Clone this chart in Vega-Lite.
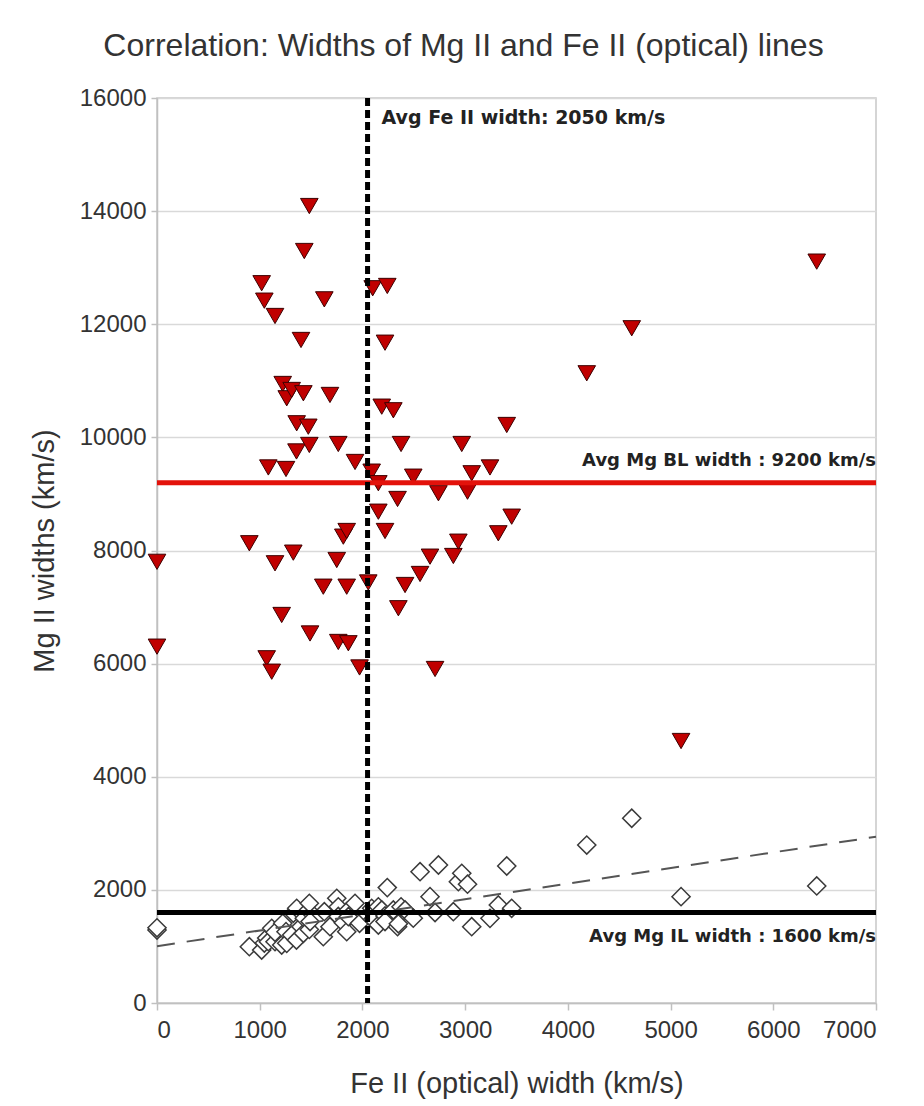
{
  "$schema": "https://vega.github.io/schema/vega-lite/v6.json",
  "autosize": {"type": "none"},
  "padding": {"left": 157, "top": 98, "right": 48, "bottom": 103},
  "width": 719,
  "height": 905,
  "background": "white",
  "title": {
    "text": "Correlation: Widths of Mg II and Fe II (optical) lines",
    "font": "Liberation Sans",
    "fontSize": 32,
    "fontWeight": "normal",
    "color": "#333333",
    "anchor": "middle",
    "dx": -53,
    "offset": 23
  },
  "datasets": {
    "objects": [
      {"fe": 0, "bl": 7800, "il": 1290},
      {"fe": 0, "bl": 6300, "il": 1330},
      {"fe": 899, "bl": 8128, "il": 995},
      {"fe": 1019, "bl": 12725, "il": 937},
      {"fe": 1045, "bl": 12417, "il": 1060},
      {"fe": 1068, "bl": 6094, "il": 1150},
      {"fe": 1084, "bl": 9468, "il": 1084},
      {"fe": 1117, "bl": 5857, "il": 1320},
      {"fe": 1149, "bl": 12146, "il": 1084},
      {"fe": 1149, "bl": 7774, "il": 1250},
      {"fe": 1214, "bl": 6860, "il": 1025},
      {"fe": 1224, "bl": 10944, "il": 1409},
      {"fe": 1256, "bl": 9441, "il": 1261},
      {"fe": 1263, "bl": 10691, "il": 1055},
      {"fe": 1311, "bl": 10838, "il": 1202},
      {"fe": 1327, "bl": 7962, "il": 1586},
      {"fe": 1358, "bl": 9751, "il": 1114},
      {"fe": 1360, "bl": 10249, "il": 1674},
      {"fe": 1402, "bl": 11722, "il": 1349},
      {"fe": 1425, "bl": 10780, "il": 1232},
      {"fe": 1434, "bl": 13295, "il": 1500},
      {"fe": 1473, "bl": 10189, "il": 1640},
      {"fe": 1483, "bl": 14090, "il": 1763},
      {"fe": 1483, "bl": 9866, "il": 1300},
      {"fe": 1490, "bl": 6533, "il": 1440},
      {"fe": 1619, "bl": 7360, "il": 1172},
      {"fe": 1629, "bl": 12440, "il": 1614},
      {"fe": 1684, "bl": 10750, "il": 1349},
      {"fe": 1750, "bl": 7832, "il": 1851},
      {"fe": 1765, "bl": 9883, "il": 1700},
      {"fe": 1765, "bl": 6383, "il": 1530},
      {"fe": 1814, "bl": 8245, "il": 1420},
      {"fe": 1847, "bl": 8345, "il": 1614},
      {"fe": 1847, "bl": 7360, "il": 1261},
      {"fe": 1863, "bl": 6360, "il": 1526},
      {"fe": 1928, "bl": 9565, "il": 1763},
      {"fe": 1972, "bl": 5932, "il": 1409},
      {"fe": 2057, "bl": 7435, "il": 1550},
      {"fe": 2090, "bl": 9394, "il": 1674},
      {"fe": 2100, "bl": 12636, "il": 1480},
      {"fe": 2155, "bl": 9189, "il": 1379},
      {"fe": 2155, "bl": 8686, "il": 1700},
      {"fe": 2188, "bl": 10543, "il": 1644},
      {"fe": 2220, "bl": 11674, "il": 1540},
      {"fe": 2220, "bl": 8345, "il": 1440},
      {"fe": 2242, "bl": 12677, "il": 2040},
      {"fe": 2301, "bl": 10479, "il": 1644},
      {"fe": 2342, "bl": 8911, "il": 1349},
      {"fe": 2350, "bl": 6979, "il": 1400},
      {"fe": 2376, "bl": 9883, "il": 1700},
      {"fe": 2415, "bl": 7390, "il": 1644},
      {"fe": 2495, "bl": 9305, "il": 1500},
      {"fe": 2561, "bl": 7585, "il": 2321},
      {"fe": 2658, "bl": 7891, "il": 1880},
      {"fe": 2707, "bl": 5905, "il": 1600},
      {"fe": 2740, "bl": 9012, "il": 2440},
      {"fe": 2885, "bl": 7903, "il": 1614},
      {"fe": 2934, "bl": 8156, "il": 2145},
      {"fe": 2967, "bl": 9883, "il": 2293},
      {"fe": 3023, "bl": 9040, "il": 2100},
      {"fe": 3064, "bl": 9365, "il": 1349},
      {"fe": 3242, "bl": 9468, "il": 1497},
      {"fe": 3323, "bl": 8304, "il": 1733},
      {"fe": 3405, "bl": 10219, "il": 2422},
      {"fe": 3453, "bl": 8598, "il": 1674},
      {"fe": 4184, "bl": 11133, "il": 2793},
      {"fe": 4622, "bl": 11929, "il": 3266},
      {"fe": 5102, "bl": 4632, "il": 1880},
      {"fe": 6423, "bl": 13107, "il": 2069}
    ]
  },
  "config": {
    "font": "Liberation Sans",
    "view": {"stroke": "#c8c8c8", "strokeWidth": 1.5},
    "axis": {
      "labelFont": "Liberation Sans",
      "labelFontSize": 24,
      "labelColor": "#333333",
      "titleFont": "Liberation Sans",
      "titleFontSize": 29,
      "titleFontWeight": "normal",
      "titleColor": "#333333",
      "domainColor": "#c0c0c0",
      "domainWidth": 1.5,
      "tickColor": "#c0c0c0",
      "tickWidth": 1.5,
      "gridColor": "#d9d9d9",
      "gridWidth": 1.5
    }
  },
  "layer": [
    {
      "data": {"name": "objects"},
      "mark": {"type": "point", "shape": "diamond", "filled": true, "fill": "white", "stroke": "#3a3a3a", "strokeWidth": 1.5, "size": 330, "opacity": 1},
      "encoding": {
        "x": {
          "field": "fe", "type": "quantitative",
          "scale": {"domain": [0, 7000], "nice": false},
          "axis": {
            "values": [0, 1000, 2000, 3000, 4000, 5000, 6000, 7000],
            "format": "d",
            "grid": false, "tickSize": 7, "labelPadding": 8,
            "title": "Fe II (optical) width (km/s)", "titlePadding": 27
          }
        },
        "y": {
          "field": "il", "type": "quantitative",
          "scale": {"domain": [0, 16000], "nice": false},
          "axis": {
            "values": [0, 2000, 4000, 6000, 8000, 10000, 12000, 14000, 16000],
            "format": "d",
            "grid": true, "tickSize": 6, "labelPadding": 5,
            "title": "Mg II widths (km/s)", "titlePadding": 20
          }
        }
      }
    },
    {
      "data": {"name": "objects"},
      "mark": {"type": "point", "shape": "triangle-down", "filled": true, "fill": "#c00000", "stroke": "#3c0000", "strokeWidth": 1, "size": 310, "opacity": 1},
      "encoding": {
        "x": {"field": "fe", "type": "quantitative"},
        "y": {"field": "bl", "type": "quantitative"}
      }
    },
    {
      "data": {"name": "objects"},
      "transform": [{"regression": "il", "on": "fe", "extent": [0, 7000]}],
      "mark": {"type": "line", "color": "#555555", "strokeWidth": 2, "strokeDash": [18, 12]},
      "encoding": {
        "x": {"field": "fe", "type": "quantitative"},
        "y": {"field": "il", "type": "quantitative"}
      }
    },
    {
      "data": {"values": [{"avg_bl": 9200}]},
      "mark": {"type": "rule", "color": "#e3120b", "strokeWidth": 5},
      "encoding": {"y": {"field": "avg_bl", "type": "quantitative"}}
    },
    {
      "data": {"values": [{"avg_il": 1600}]},
      "mark": {"type": "rule", "color": "#000000", "strokeWidth": 5},
      "encoding": {"y": {"field": "avg_il", "type": "quantitative"}}
    },
    {
      "data": {"values": [{"avg_fe": 2050}]},
      "mark": {"type": "rule", "color": "#000000", "strokeWidth": 5, "strokeDash": [8, 4]},
      "encoding": {"x": {"field": "avg_fe", "type": "quantitative"}}
    },
    {
      "data": {"values": [{"x": 2050, "y": 16000, "label": "Avg Fe II width: 2050 km/s"}]},
      "mark": {"type": "text", "align": "left", "baseline": "middle", "dx": 14, "dy": 20, "font": "DejaVu Sans", "fontSize": 19, "fontWeight": "bold", "color": "#222222"},
      "encoding": {
        "x": {"field": "x", "type": "quantitative"},
        "y": {"field": "y", "type": "quantitative"},
        "text": {"field": "label"}
      }
    },
    {
      "data": {"values": [{"x": 7000, "y": 9200, "label": "Avg Mg BL width : 9200 km/s"}]},
      "mark": {"type": "text", "align": "right", "baseline": "middle", "dx": 0, "dy": -22, "font": "DejaVu Sans", "fontSize": 18, "fontWeight": "bold", "color": "#222222"},
      "encoding": {
        "x": {"field": "x", "type": "quantitative"},
        "y": {"field": "y", "type": "quantitative"},
        "text": {"field": "label"}
      }
    },
    {
      "data": {"values": [{"x": 7000, "y": 1600, "label": "Avg Mg IL width : 1600 km/s"}]},
      "mark": {"type": "text", "align": "right", "baseline": "middle", "dx": 0, "dy": 24, "font": "DejaVu Sans", "fontSize": 18, "fontWeight": "bold", "color": "#222222"},
      "encoding": {
        "x": {"field": "x", "type": "quantitative"},
        "y": {"field": "y", "type": "quantitative"},
        "text": {"field": "label"}
      }
    }
  ]
}
